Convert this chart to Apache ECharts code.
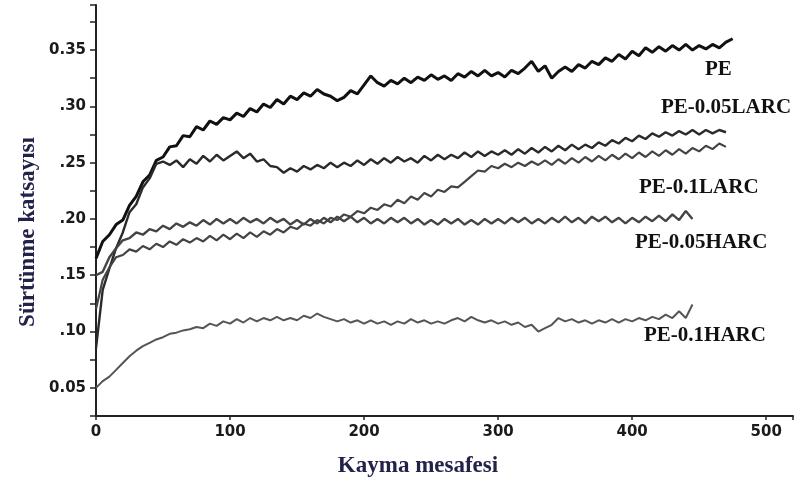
<!DOCTYPE html>
<html>
<head>
<meta charset="utf-8">
<script src="https://cdn.jsdelivr.net/npm/echarts@6/dist/echarts.min.js"></script>
<style>
  html, body { margin: 0; padding: 0; background: #fff; }
  #chart { width: 798px; height: 488px; }
</style>
</head>
<body>
<div id="chart"></div>
<script>
  // sliding distance, step 5
  const distStep = 5

  // friction coefficient readings, one value per step from 0
  const pe = [
    0.165, 0.180, 0.186, 0.195, 0.199, 0.212, 0.220, 0.233, 0.239, 0.252,
    0.255, 0.264, 0.265, 0.274, 0.273, 0.282, 0.279, 0.287, 0.284, 0.290,
    0.288, 0.294, 0.291, 0.298, 0.295, 0.302, 0.299, 0.306, 0.302, 0.309,
    0.306, 0.312, 0.309, 0.315, 0.311, 0.309, 0.305, 0.308, 0.314, 0.311,
    0.319, 0.327, 0.321, 0.318, 0.323, 0.320, 0.325, 0.321, 0.326, 0.323,
    0.328, 0.324, 0.327, 0.323, 0.329, 0.326, 0.331, 0.327, 0.332, 0.327,
    0.330, 0.326, 0.332, 0.329, 0.334, 0.340, 0.331, 0.336, 0.325, 0.331,
    0.335, 0.331, 0.337, 0.334, 0.340, 0.337, 0.343, 0.340, 0.346, 0.342,
    0.349, 0.345, 0.352, 0.348, 0.353, 0.349, 0.354, 0.350, 0.355, 0.350,
    0.354, 0.351, 0.355, 0.352, 0.357, 0.360
  ]
  const pe005larc = [
    0.085, 0.137, 0.156, 0.174, 0.188, 0.206, 0.213, 0.228, 0.236, 0.249,
    0.251, 0.248, 0.252, 0.246, 0.253, 0.249, 0.256, 0.251, 0.257, 0.252,
    0.256, 0.260, 0.254, 0.258, 0.251, 0.253, 0.247, 0.246, 0.241, 0.245,
    0.242, 0.247, 0.244, 0.248, 0.245, 0.250, 0.246, 0.250, 0.247, 0.252,
    0.248, 0.253, 0.249, 0.254, 0.250, 0.255, 0.251, 0.254, 0.250, 0.256,
    0.252, 0.257, 0.253, 0.257, 0.254, 0.259, 0.255, 0.260, 0.256, 0.260,
    0.257, 0.261, 0.257, 0.262, 0.258, 0.263, 0.259, 0.264, 0.260, 0.265,
    0.261, 0.266, 0.262, 0.266, 0.263, 0.268, 0.265, 0.270, 0.267, 0.272,
    0.269, 0.274, 0.271, 0.276, 0.273, 0.277, 0.274, 0.278, 0.275, 0.279,
    0.275, 0.279, 0.276, 0.279, 0.277
  ]
  const pe01larc = [
    0.120, 0.146, 0.157, 0.166, 0.168, 0.173, 0.171, 0.176, 0.173, 0.178,
    0.175, 0.180, 0.177, 0.182, 0.179, 0.183, 0.180, 0.185, 0.181, 0.186,
    0.182, 0.187, 0.183, 0.188, 0.184, 0.189, 0.186, 0.191, 0.188, 0.193,
    0.191, 0.196, 0.194, 0.199, 0.196, 0.201, 0.199, 0.204, 0.202, 0.207,
    0.205, 0.210, 0.208, 0.213, 0.211, 0.217, 0.214, 0.220, 0.217, 0.223,
    0.220, 0.226, 0.224, 0.229, 0.228, 0.233, 0.238, 0.243, 0.242, 0.247,
    0.245, 0.249, 0.246, 0.250, 0.247, 0.251, 0.248, 0.252, 0.248, 0.253,
    0.249, 0.254, 0.250, 0.255, 0.251, 0.256, 0.252, 0.257, 0.253, 0.258,
    0.254, 0.259, 0.255, 0.260, 0.256, 0.261, 0.257, 0.262, 0.258, 0.263,
    0.260, 0.265, 0.262, 0.267, 0.264
  ]
  const pe005harc = [
    0.150, 0.153, 0.166, 0.174, 0.181, 0.183, 0.188, 0.186, 0.191, 0.189,
    0.194, 0.191, 0.196, 0.193, 0.197, 0.194, 0.199, 0.195, 0.200, 0.196,
    0.200, 0.196, 0.201, 0.197, 0.200, 0.196, 0.201, 0.197, 0.200, 0.195,
    0.199, 0.195, 0.200, 0.196, 0.201, 0.197, 0.202, 0.198, 0.202, 0.197,
    0.201, 0.196, 0.200, 0.196, 0.201, 0.197, 0.201, 0.196, 0.200, 0.195,
    0.199, 0.195, 0.200, 0.196, 0.200, 0.195, 0.199, 0.195, 0.200, 0.196,
    0.200, 0.196, 0.201, 0.197, 0.201, 0.196, 0.200, 0.196, 0.201, 0.197,
    0.202, 0.197, 0.201, 0.196, 0.202, 0.198, 0.202, 0.197, 0.201, 0.196,
    0.201, 0.197, 0.202, 0.198, 0.203, 0.198, 0.204, 0.199, 0.207, 0.200
  ]
  const pe01harc = [
    0.050, 0.056, 0.060, 0.066, 0.072, 0.078, 0.083, 0.087, 0.090, 0.093,
    0.095, 0.098, 0.099, 0.101, 0.102, 0.104, 0.103, 0.107, 0.105, 0.109,
    0.107, 0.111, 0.108, 0.112, 0.109, 0.112, 0.110, 0.113, 0.110, 0.112,
    0.110, 0.114, 0.112, 0.116, 0.113, 0.111, 0.109, 0.111, 0.108, 0.110,
    0.107, 0.110, 0.107, 0.109, 0.106, 0.109, 0.107, 0.111, 0.108, 0.110,
    0.107, 0.109, 0.107, 0.110, 0.112, 0.109, 0.113, 0.110, 0.108, 0.110,
    0.107, 0.109, 0.106, 0.108, 0.104, 0.106, 0.100, 0.103, 0.106, 0.112,
    0.109, 0.111, 0.108, 0.110, 0.107, 0.110, 0.108, 0.111, 0.108, 0.111,
    0.109, 0.112, 0.110, 0.113, 0.111, 0.115, 0.112, 0.118, 0.112, 0.124
  ]

  const xTicks = [0, 100, 200, 300, 400, 500]
  const yTickLabels = { '0.35': '0.35', '0.3': '.30', '0.25': '.25', '0.2': '.20', '0.15': '.15', '0.1': '.10', '0.05': '0.05' }

  const toPairs = arr => arr.map((v, i) => [i * distStep, v])

  const chart = echarts.init(document.getElementById('chart'))

  const tickFont = { color: '#1a1a1a', fontFamily: 'DejaVu Sans', fontWeight: 'bold', fontSize: 15 }
  const tagFont = 'bold 21px "Liberation Serif"'

  const mkLine = (name, arr, color, width) => ({
    name,
    type: 'line',
    data: toPairs(arr),
    showSymbol: false,
    lineStyle: { color, width },
    itemStyle: { color },
    z: 3
  })

  const option = {
    animation: false,
    backgroundColor: '#fff',
    grid: { left: 96, right: 5, top: 5, bottom: 72, containLabel: false },
    xAxis: {
      type: 'value',
      min: 0,
      max: 520,
      interval: 100,
      axisLine: { lineStyle: { color: '#222', width: 2 } },
      axisTick: { show: true, length: 4, lineStyle: { color: '#222', width: 1.5 } },
      axisLabel: {
        ...tickFont,
        margin: 9,
        formatter: v => (xTicks.includes(v) ? String(v) : '')
      },
      splitLine: { show: false }
    },
    yAxis: {
      type: 'value',
      min: 0.025,
      max: 0.39,
      interval: 0.025,
      axisLine: { show: true, lineStyle: { color: '#222', width: 2 } },
      axisTick: { show: true, length: 6, lineStyle: { color: '#222', width: 1.5 } },
      axisLabel: {
        ...tickFont,
        margin: 10,
        formatter: v => yTickLabels[String(+v.toFixed(3))] || ''
      },
      splitLine: { show: false }
    },
    series: [
      mkLine('PE', pe, '#111', 3),
      mkLine('PE-0.05LARC', pe005larc, '#2a2a2a', 2.4),
      mkLine('PE-0.1LARC', pe01larc, '#444', 2.2),
      mkLine('PE-0.05HARC', pe005harc, '#444', 2.4),
      mkLine('PE-0.1HARC', pe01harc, '#555', 2)
    ],
    graphic: [
      { type: 'text', x: 28, y: 232, rotation: Math.PI / 2,
        style: { text: 'Sürtünme katsayısı', font: 'bold 23px "Liberation Serif"', fill: '#23234a', align: 'center', verticalAlign: 'middle' } },
      { type: 'text', x: 418, y: 466,
        style: { text: 'Kayma mesafesi', font: 'bold 23px "Liberation Serif"', fill: '#23234a', align: 'center', verticalAlign: 'middle' } },
      { type: 'text', x: 705, y: 70, style: { text: 'PE', font: tagFont, fill: '#111', verticalAlign: 'middle' } },
      { type: 'text', x: 661, y: 108, style: { text: 'PE-0.05LARC', font: tagFont, fill: '#111', verticalAlign: 'middle' } },
      { type: 'text', x: 639, y: 188, style: { text: 'PE-0.1LARC', font: tagFont, fill: '#111', verticalAlign: 'middle' } },
      { type: 'text', x: 635, y: 243, style: { text: 'PE-0.05HARC', font: tagFont, fill: '#111', verticalAlign: 'middle' } },
      { type: 'text', x: 644, y: 336, style: { text: 'PE-0.1HARC', font: tagFont, fill: '#111', verticalAlign: 'middle' } }
    ]
  }

  chart.setOption(option)
</script>
</body>
</html>
